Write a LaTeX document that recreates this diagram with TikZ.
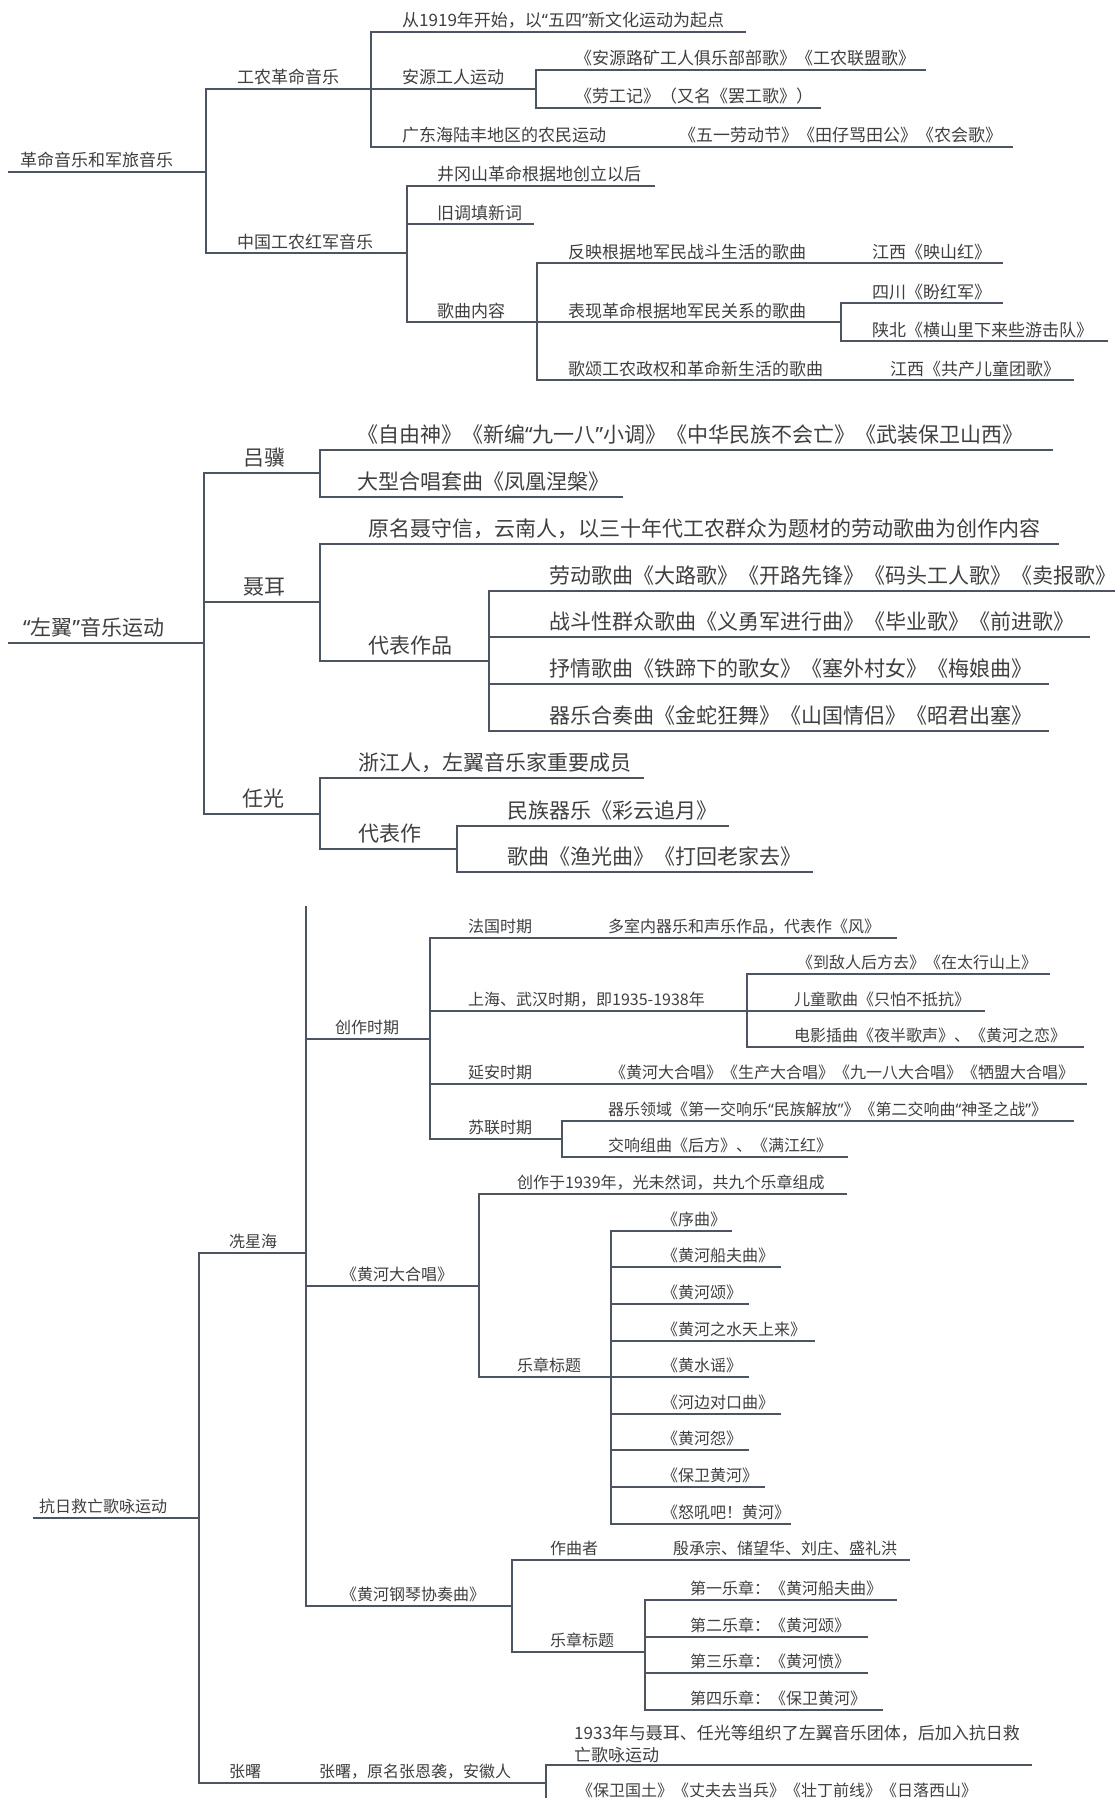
\documentclass[tikz,border=0pt]{standalone}
\usepackage{fontspec}
\setmainfont{Noto Sans CJK SC}
\newfontfamily\quotefont{Noto Sans}
\newcommand{\myoq}{{\quotefont “}}
\newcommand{\mycq}{{\quotefont ”}}
\usepackage{xcolor}
\usepackage{tikz}
\definecolor{txtc}{HTML}{3F3F3F}
\definecolor{linec}{HTML}{4D5562}

\begin{document}
\begin{tikzpicture}[
  x=1pt, y=-1pt,
  labelA/.style={anchor=base west, inner sep=0pt, yshift=5pt, text=txtc, font=\fontsize{17}{20}\selectfont},
  labelB/.style={anchor=base west, inner sep=0pt, yshift=8pt, text=txtc, font=\fontsize{21}{24}\selectfont},
  labelC/.style={anchor=base west, inner sep=0pt, yshift=6pt, text=txtc, font=\fontsize{16}{19}\selectfont},
  lineA/.style={draw=linec, line width=1.6pt},
  lineB/.style={draw=linec, line width=2pt},
  lineC/.style={draw=linec, line width=1.6pt}
]

\path[use as bounding box, fill=white] (0,0) rectangle (1115,1798);

\node[labelA] (r1) at (20,172) {革命音乐和军旅音乐};
\coordinate (r1s) at (8,172);
\coordinate (r1e) at (206,172);

\node[labelA] (a1) at (237,89) {工农革命音乐};
\coordinate (a1e) at (371,89);
\node[labelA] (a11) at (402,32) {从1919年开始，以\myoq 五四\mycq 新文化运动为起点};
\coordinate (a11e) at (746,32);
\node[labelA] (a12) at (402,89) {安源工人运动};
\coordinate (a12e) at (536,89);
\node[labelA] (a121) at (575,70) {《安源路矿工人俱乐部部歌》《工农联盟歌》};
\coordinate (a121e) at (926,70);
\node[labelA] (a122) at (575,108) {《劳工记》（又名《罢工歌》）};
\coordinate (a122e) at (821,108);
\node[labelA] (a13) at (402,147) {广东海陆丰地区的农民运动};
\coordinate (a13e) at (650,147);
\node[labelA] (a131) at (679,147) {《五一劳动节》《田仔骂田公》《农会歌》};
\coordinate (a131e) at (1013,147);

\node[labelA] (a2) at (237,253) {中国工农红军音乐};
\coordinate (a2e) at (407,253);
\node[labelA] (a21) at (437,186) {井冈山革命根据地创立以后};
\coordinate (a21e) at (655,186);
\node[labelA] (a22) at (437,224) {旧调填新词};
\coordinate (a22e) at (534,224);
\node[labelA] (a23) at (437,322) {歌曲内容};
\coordinate (a23e) at (537,322);
\node[labelA] (a231) at (568,263) {反映根据地军民战斗生活的歌曲};
\coordinate (a231e) at (841,263);
\node[labelA] (a2311) at (872,263) {江西《映山红》};
\coordinate (a2311e) at (1003,263);
\node[labelA] (a232) at (568,322) {表现革命根据地军民关系的歌曲};
\coordinate (a232e) at (841,322);
\node[labelA] (a2321) at (872,303) {四川《盼红军》};
\coordinate (a2321e) at (1003,303);
\node[labelA] (a2322) at (872,341) {陕北《横山里下来些游击队》};
\coordinate (a2322e) at (1108,341);
\node[labelA] (a233) at (568,380) {歌颂工农政权和革命新生活的歌曲};
\coordinate (a233e) at (860,380);
\node[labelA] (a2331) at (890,380) {江西《共产儿童团歌》};
\coordinate (a2331e) at (1074,380);

\draw[lineA] (r1s) -- (r1e);
\draw[lineA] (r1e) |- (a1e);
\draw[lineA] (r1e) |- (a2e);
\draw[lineA] (a1e) |- (a11e);
\draw[lineA] (a1e) |- (a12e);
\draw[lineA] (a1e) |- (a13e);
\draw[lineA] (a12e) |- (a121e);
\draw[lineA] (a12e) |- (a122e);
\draw[lineA] (a13e) |- (a131e);
\draw[lineA] (a2e) |- (a21e);
\draw[lineA] (a2e) |- (a22e);
\draw[lineA] (a2e) |- (a23e);
\draw[lineA] (a23e) |- (a231e);
\draw[lineA] (a23e) |- (a232e);
\draw[lineA] (a23e) |- (a233e);
\draw[lineA] (a231e) |- (a2311e);
\draw[lineA] (a232e) |- (a2321e);
\draw[lineA] (a232e) |- (a2322e);
\draw[lineA] (a233e) |- (a2331e);

\node[labelB] (r2) at (23,643) {\myoq 左翼\mycq 音乐运动};
\coordinate (r2s) at (8,643);
\coordinate (r2e) at (204,643);

\node[labelB] (b1) at (243,473) {吕骥};
\coordinate (b1e) at (320,473);
\node[labelB] (b11) at (357,450) {《自由神》《新编\myoq 九一八\mycq 小调》《中华民族不会亡》《武装保卫山西》};
\coordinate (b11e) at (1053,450);
\node[labelB] (b12) at (357,497) {大型合唱套曲《凤凰涅槃》};
\coordinate (b12e) at (623,497);

\node[labelB] (b2) at (243,602) {聂耳};
\coordinate (b2e) at (320,602);
\node[labelB] (b21) at (368,544) {原名聂守信，云南人，以三十年代工农群众为题材的劳动歌曲为创作内容};
\coordinate (b21e) at (1059,544);
\node[labelB] (b22) at (368,661) {代表作品};
\coordinate (b22e) at (489,661);
\node[labelB] (b221) at (549,591) {劳动歌曲《大路歌》《开路先锋》《码头工人歌》《卖报歌》};
\coordinate (b221e) at (1115,591);
\node[labelB] (b222) at (549,637) {战斗性群众歌曲《义勇军进行曲》《毕业歌》《前进歌》};
\coordinate (b222e) at (1090,637);
\node[labelB] (b223) at (549,684) {抒情歌曲《铁蹄下的歌女》《塞外村女》《梅娘曲》};
\coordinate (b223e) at (1049,684);
\node[labelB] (b224) at (549,731) {器乐合奏曲《金蛇狂舞》《山国情侣》《昭君出塞》};
\coordinate (b224e) at (1049,731);

\node[labelB] (b3) at (242,814) {任光};
\coordinate (b3e) at (320,814);
\node[labelB] (b31) at (358,778) {浙江人，左翼音乐家重要成员};
\coordinate (b31e) at (644,778);
\node[labelB] (b32) at (358,849) {代表作};
\coordinate (b32e) at (457,849);
\node[labelB] (b321) at (507,826) {民族器乐《彩云追月》};
\coordinate (b321e) at (729,826);
\node[labelB] (b322) at (507,872) {歌曲《渔光曲》《打回老家去》};
\coordinate (b322e) at (813,872);

\draw[lineB] (r2s) -- (r2e);
\draw[lineB] (r2e) |- (b1e);
\draw[lineB] (r2e) |- (b2e);
\draw[lineB] (r2e) |- (b3e);
\draw[lineB] (b1e) |- (b11e);
\draw[lineB] (b1e) |- (b12e);
\draw[lineB] (b2e) |- (b21e);
\draw[lineB] (b2e) |- (b22e);
\draw[lineB] (b22e) |- (b221e);
\draw[lineB] (b22e) |- (b222e);
\draw[lineB] (b22e) |- (b223e);
\draw[lineB] (b22e) |- (b224e);
\draw[lineB] (b3e) |- (b31e);
\draw[lineB] (b3e) |- (b32e);
\draw[lineB] (b32e) |- (b321e);
\draw[lineB] (b32e) |- (b322e);

\node[labelC] (r3) at (39,1518) {抗日救亡歌咏运动};
\coordinate (r3s) at (33,1518);
\coordinate (r3e) at (199,1518);

\node[labelC] (c1) at (229,1253) {冼星海};
\coordinate (c1e) at (306,1253);
\coordinate (c1top) at (306,906);

\node[labelC] (c11) at (335,1039) {创作时期};
\coordinate (c11e) at (430,1039);
\node[labelC] (c111) at (468,938) {法国时期};
\coordinate (c111e) at (590,938);
\node[labelC] (c1111) at (608,938) {多室内器乐和声乐作品，代表作《风》};
\coordinate (c1111e) at (897,938);
\node[labelC] (c112) at (468,1011) {上海、武汉时期，即1935-1938年};
\coordinate (c112e) at (747,1011);
\node[labelC] (c1121) at (797,974) {《到敌人后方去》《在太行山上》};
\coordinate (c1121e) at (1050,974);
\node[labelC] (c1122) at (794,1011) {儿童歌曲《只怕不抵抗》};
\coordinate (c1122e) at (985,1011);
\node[labelC] (c1123) at (794,1047) {电影插曲《夜半歌声》、《黄河之恋》};
\coordinate (c1123e) at (1084,1047);
\node[labelC] (c113) at (468,1084) {延安时期};
\coordinate (c113e) at (595,1084);
\node[labelC] (c1131) at (610,1084) {《黄河大合唱》《生产大合唱》《九一八大合唱》《牺盟大合唱》};
\coordinate (c1131e) at (1087,1084);
\node[labelC] (c114) at (468,1139) {苏联时期};
\coordinate (c114e) at (562,1139);
\node[labelC] (c1141) at (608,1121) {器乐领域《第一交响乐\myoq 民族解放\mycq》《第二交响曲\myoq 神圣之战\mycq》};
\coordinate (c1141e) at (1074,1121);
\node[labelC] (c1142) at (608,1157) {交响组曲《后方》、《满江红》};
\coordinate (c1142e) at (848,1157);

\node[labelC] (c12) at (341,1286) {《黄河大合唱》};
\coordinate (c12e) at (479,1286);
\node[labelC] (c121) at (517,1194) {创作于1939年，光未然词，共九个乐章组成};
\coordinate (c121e) at (847,1194);
\node[labelC] (c122) at (517,1377) {乐章标题};
\coordinate (c122e) at (611,1377);
\node[labelC] (c1221) at (662,1231) {《序曲》};
\coordinate (c1221e) at (732,1231);
\node[labelC] (c1222) at (662,1267) {《黄河船夫曲》};
\coordinate (c1222e) at (781,1267);
\node[labelC] (c1223) at (662,1304) {《黄河颂》};
\coordinate (c1223e) at (749,1304);
\node[labelC] (c1224) at (662,1341) {《黄河之水天上来》};
\coordinate (c1224e) at (815,1341);
\node[labelC] (c1225) at (662,1377) {《黄水谣》};
\coordinate (c1225e) at (749,1377);
\node[labelC] (c1226) at (662,1414) {《河边对口曲》};
\coordinate (c1226e) at (781,1414);
\node[labelC] (c1227) at (662,1450) {《黄河怨》};
\coordinate (c1227e) at (749,1450);
\node[labelC] (c1228) at (662,1487) {《保卫黄河》};
\coordinate (c1228e) at (765,1487);
\node[labelC] (c1229) at (662,1524) {《怒吼吧！黄河》};
\coordinate (c1229e) at (791,1524);

\node[labelC] (c13) at (341,1606) {《黄河钢琴协奏曲》};
\coordinate (c13e) at (512,1606);
\node[labelC] (c131) at (550,1560) {作曲者};
\coordinate (c131e) at (640,1560);
\node[labelC] (c1311) at (673,1560) {殷承宗、储望华、刘庄、盛礼洪};
\coordinate (c1311e) at (910,1560);
\node[labelC] (c132) at (550,1652) {乐章标题};
\coordinate (c132e) at (645,1652);
\node[labelC] (c1321) at (690,1600) {第一乐章：《黄河船夫曲》};
\coordinate (c1321e) at (897,1600);
\node[labelC] (c1322) at (690,1637) {第二乐章：《黄河颂》};
\coordinate (c1322e) at (868,1637);
\node[labelC] (c1323) at (690,1673) {第三乐章：《黄河愤》};
\coordinate (c1323e) at (868,1673);
\node[labelC] (c1324) at (690,1710) {第四乐章：《保卫黄河》};
\coordinate (c1324e) at (883,1710);

\node[labelC] (c2) at (229,1783) {张曙};
\coordinate (c2e) at (306,1783);
\node[labelC] (c21) at (319,1783) {张曙，原名张恩袭，安徽人};
\coordinate (c21e) at (546,1783);
\node[labelC, anchor=south west, yshift=-4pt, align=left, font=\fontsize{17}{22}\selectfont] (c211) at (574,1765) {1933年与聂耳、任光等组织了左翼音乐团体，后加入抗日救\\亡歌咏运动};
\coordinate (c211e) at (1032,1765);
\node[labelC] (c212) at (577,1802) {《保卫国土》《丈夫去当兵》《壮丁前线》《日落西山》};
\coordinate (c212e) at (1040,1802);

\draw[lineC] (r3s) -- (r3e);
\draw[lineC] (r3e) |- (c1e);
\draw[lineC] (r3e) |- (c2e);
\draw[lineC] (c1e) -- (c1top);
\draw[lineC] (c1e) |- (c11e);
\draw[lineC] (c1e) |- (c12e);
\draw[lineC] (c1e) |- (c13e);
\draw[lineC] (c11e) |- (c111e);
\draw[lineC] (c11e) |- (c112e);
\draw[lineC] (c11e) |- (c113e);
\draw[lineC] (c11e) |- (c114e);
\draw[lineC] (c111e) |- (c1111e);
\draw[lineC] (c112e) |- (c1121e);
\draw[lineC] (c112e) |- (c1122e);
\draw[lineC] (c112e) |- (c1123e);
\draw[lineC] (c113e) |- (c1131e);
\draw[lineC] (c114e) |- (c1141e);
\draw[lineC] (c114e) |- (c1142e);
\draw[lineC] (c12e) |- (c121e);
\draw[lineC] (c12e) |- (c122e);
\draw[lineC] (c122e) |- (c1221e);
\draw[lineC] (c122e) |- (c1222e);
\draw[lineC] (c122e) |- (c1223e);
\draw[lineC] (c122e) |- (c1224e);
\draw[lineC] (c122e) |- (c1225e);
\draw[lineC] (c122e) |- (c1226e);
\draw[lineC] (c122e) |- (c1227e);
\draw[lineC] (c122e) |- (c1228e);
\draw[lineC] (c122e) |- (c1229e);
\draw[lineC] (c13e) |- (c131e);
\draw[lineC] (c13e) |- (c132e);
\draw[lineC] (c131e) |- (c1311e);
\draw[lineC] (c132e) |- (c1321e);
\draw[lineC] (c132e) |- (c1322e);
\draw[lineC] (c132e) |- (c1323e);
\draw[lineC] (c132e) |- (c1324e);
\draw[lineC] (c2e) |- (c21e);
\draw[lineC] (c21e) |- (c211e);
\draw[lineC] (c21e) |- (c212e);

\end{tikzpicture}
\end{document}
